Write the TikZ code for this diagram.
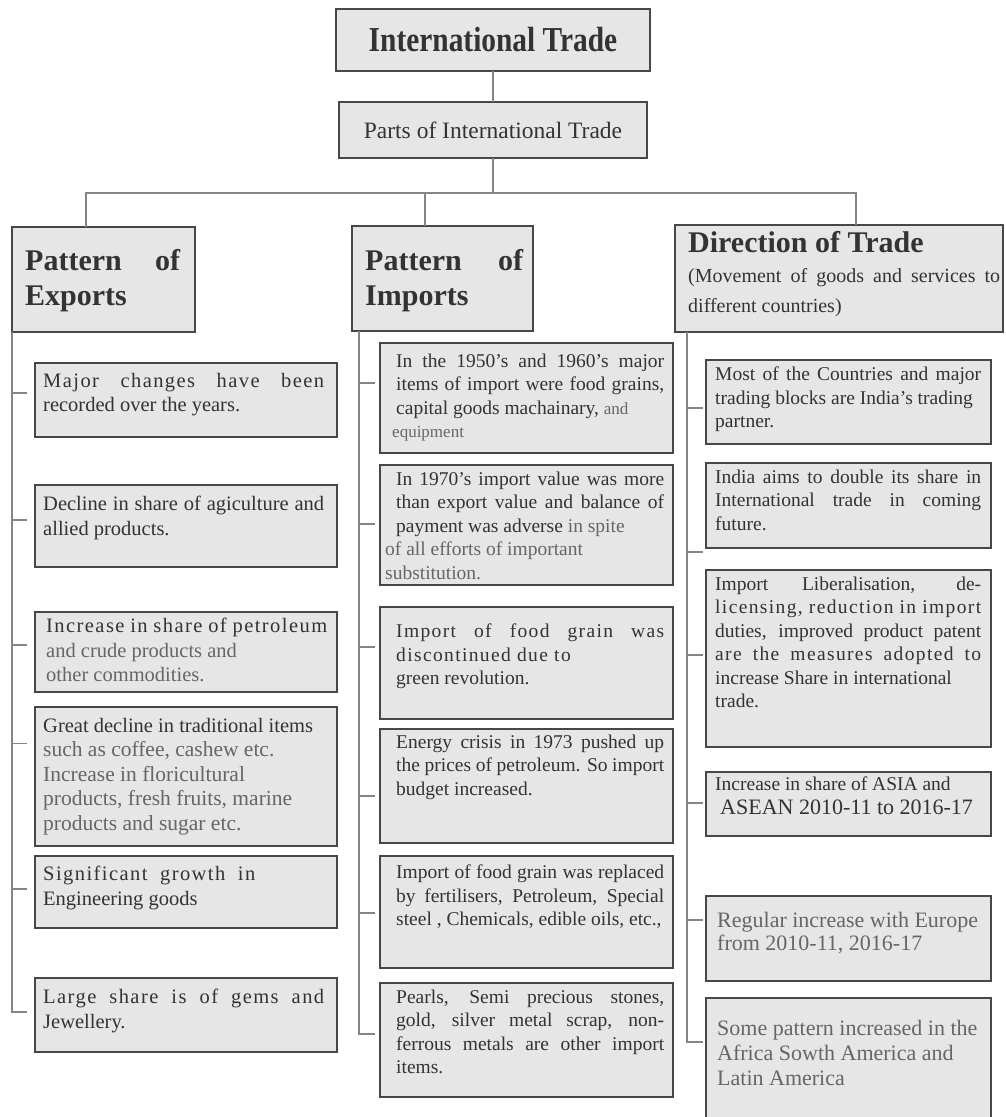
\documentclass[tikz,border=0pt]{standalone}
\usepackage{fontspec}
\setmainfont{Liberation Serif}
\newfontfamily\condfont{Liberation Serif}[FakeStretch=0.84]
\usepackage{xcolor}
\usepackage{tikz}
\usetikzlibrary{positioning}
\definecolor{boxfill}{HTML}{E6E6E6}
\definecolor{boxline}{HTML}{474747}
\definecolor{linkgray}{HTML}{858585}
\definecolor{txtdark}{HTML}{333333}
\definecolor{txtlight}{HTML}{666666}
\newcommand{\spread}[1]{{\addfontfeature{LetterSpace=7}#1}}
\tolerance=9999
\hbadness=10000
\hyphenpenalty=10000

\begin{document}
\begin{tikzpicture}[
    x=1pt, y=-1pt,
    topbox/.style={rectangle, draw=boxline, fill=boxfill, line width=2.6pt,
        minimum width=314pt, minimum height=62pt, outer sep=0pt, text=txtdark,
        font=\condfont\bfseries\fontsize{35}{40}\selectfont},
    partsbox/.style={rectangle, draw=boxline, fill=boxfill, line width=2.2pt,
        minimum width=308pt, minimum height=56pt, outer sep=0pt, text=txtdark,
        font=\fontsize{23.5}{28}\selectfont},
    hdr/.style={rectangle, draw=boxline, fill=boxfill, line width=2.2pt,
        anchor=north west, outer sep=0pt, inner sep=0pt},
    hdrtxt/.style={anchor=north west, inner sep=0pt, align=justify, text=txtdark,
        font=\bfseries\fontsize{30}{35}\selectfont},
    item/.style={rectangle, draw=boxline, fill=boxfill, line width=1.8pt,
        anchor=north west, outer sep=0pt, inner sep=0pt},
    eitem/.style={item, minimum width=302pt},
    iitem/.style={item, minimum width=293pt},
    ditem/.style={item, minimum width=285pt},
    txt/.style={anchor=north west, inner sep=0pt, align=justify, text=txtdark,
        font=\fontsize{19.5}{23.5}\selectfont},
    etxt/.style={txt, text width=281pt, font=\fontsize{20.5}{24.5}\selectfont},
    itxt/.style={txt, text width=268pt},
    dtxt/.style={txt, text width=266pt},
    conn/.style={draw=linkgray, line width=1.3pt}
]
    \useasboundingbox (0,0) rectangle (1005,1117);
    \fill[white] (0,0) rectangle (1005,1117);

    % title and parts
    \node[topbox] (top) at (493,40) {International Trade};
    \node[partsbox, below=31pt of top] (parts) {Parts of International Trade};

    % column headers
    \node[hdr, minimum width=183pt, minimum height=105pt] (ex) at (12,227) {};
    \node[hdrtxt, text width=155pt] (ext) at ([shift={(13pt,-22.5pt)}]ex.north west)
        {Pattern of Exports};
    \node[hdr, minimum width=181pt, minimum height=105pt] (im) at (352,226) {};
    \node[hdrtxt, text width=158pt] (imt) at ([shift={(13pt,-23.5pt)}]im.north west)
        {Pattern of Imports};
    \node[hdr, minimum width=328pt, minimum height=107pt] (dr) at (675,225) {};
    \node[hdrtxt, text width=312pt, font=\fontsize{20}{30}\selectfont] (drt)
        at ([shift={(13pt,-6.3pt)}]dr.north west)
        {{\bfseries\fontsize{30}{35}\selectfont Direction of Trade\par}
         (Movement of goods and services to\linebreak different countries)};

    % tree lines
    \coordinate (busL) at (86,193);
    \coordinate (busM) at (425,193);
    \coordinate (busR) at (856,193);
    \draw[conn] (top) -- (parts);
    \draw[conn] (parts.south) -- (parts.south |- busL);
    \draw[conn] (ex.north -| busL) -- (busL) -- (busR) -- (dr.north -| busR);
    \draw[conn] (busM) -- (im.north -| busM);

    % exports
    \node[eitem, minimum height=74pt] (e1) at (35,363) {};
    \node[etxt] (e1t) at ([shift={(8pt,-10pt)}]e1.north west)
        {\spread{Major changes have been}\linebreak recorded over the years.};
    \node[eitem, minimum height=82pt] (e2) at (35,485) {};
    \node[etxt] (e2t) at ([shift={(8pt,-11pt)}]e2.north west)
        {Decline in share of agiculture and\linebreak allied products.};
    \node[eitem, minimum height=80pt] (e3) at (35,612) {};
    \node[etxt] (e3t) at ([shift={(11pt,-6pt)}]e3.north west)
        {\spread{Increase in share of petroleum}\linebreak
         {\color{txtlight}and crude products and\\ other commodities.}};
    \node[eitem, minimum height=139pt] (e4) at (35,707) {};
    \node[etxt] (e4t) at ([shift={(8pt,-11pt)}]e4.north west)
        {Great decline in traditional items\\
         {\color{txtlight}\fontsize{21.5}{25}\selectfont such as coffee, cashew etc.\\
         Increase in floricultural\\ products, fresh fruits, marine\\ products and sugar etc.}};
    \node[eitem, minimum height=72pt] (e5) at (35,856) {};
    \node[etxt] (e5t) at ([shift={(8pt,-10pt)}]e5.north west)
        {\spread{Significant\hspace{6pt} growth\hspace{6pt} in}\\ Engineering goods};
    \node[eitem, minimum height=74pt] (e6) at (35,978) {};
    \node[etxt] (e6t) at ([shift={(8pt,-11pt)}]e6.north west)
        {\spread{Large share is of gems and}\linebreak Jewellery.};

    % imports
    \node[iitem, minimum height=110pt] (i1) at (380,343) {};
    \node[itxt] (i1t) at ([shift={(16pt,-10.7pt)}]i1.north west)
        {In the 1950's and 1960's major\linebreak items of import were food grains,\linebreak
         capital goods machainary, {\color{txtlight}\fontsize{17}{23.5}\selectfont and\\
         \hspace*{-4pt}equipment}};
    \node[iitem, minimum height=120pt] (i2) at (380,465) {};
    \node[itxt] (i2t) at ([shift={(16pt,-6.7pt)}]i2.north west)
        {In 1970's import value was more\linebreak than export value and balance of\linebreak
         payment was adverse {\color{txtlight}in spite\\
         \hspace*{-11pt}of all efforts of important\\ \hspace*{-11pt}substitution.}};
    \node[iitem, minimum height=112pt] (i3) at (380,607) {};
    \node[itxt] (i3t) at ([shift={(16pt,-16.7pt)}]i3.north west)
        {\spread{Import of food grain was}\linebreak \spread{discontinued due to}\\ green revolution.};
    \node[iitem, minimum height=114pt] (i4) at (380,729) {};
    \node[itxt] (i4t) at ([shift={(16pt,-5.7pt)}]i4.north west)
        {Energy crisis in 1973 pushed up\linebreak the prices of petroleum. So import\\
         budget increased.};
    \node[iitem, minimum height=112pt] (i5) at (380,856) {};
    \node[itxt] (i5t) at ([shift={(16pt,-8.7pt)}]i5.north west)
        {Import of food grain was replaced\linebreak by fertilisers, Petroleum, Special\linebreak
         steel , Chemicals, edible oils, etc.,};
    \node[iitem, minimum height=114pt] (i6) at (380,983) {};
    \node[itxt] (i6t) at ([shift={(16pt,-6.7pt)}]i6.north west)
        {Pearls, Semi precious stones,\linebreak gold, silver metal scrap, non-\linebreak
         ferrous metals are other import\linebreak items.};

    % direction
    \node[ditem, minimum height=84pt] (d1) at (706,360) {};
    \node[dtxt] (d1t) at ([shift={(9pt,-6.7pt)}]d1.north west)
        {Most of the Countries and major\linebreak trading blocks are India's trading\\ partner.};
    \node[ditem, minimum height=85pt] (d2) at (706,463) {};
    \node[dtxt] (d2t) at ([shift={(9pt,-6.7pt)}]d2.north west)
        {India aims to double its share in\linebreak International trade in coming\linebreak future.};
    \node[ditem, minimum height=177pt] (d3) at (706,570) {};
    \node[dtxt] (d3t) at ([shift={(9pt,-6.7pt)}]d3.north west)
        {Import Liberalisation, de-\linebreak \spread{licensing, reduction in import}\linebreak
         duties, improved product patent\linebreak \spread{are the measures adopted to}\linebreak
         increase Share in international\\ trade.};
    \node[ditem, minimum height=64pt] (d4) at (706,772) {};
    \node[dtxt] (d4t) at ([shift={(9pt,-4.7pt)}]d4.north west)
        {Increase in share of ASIA and\\
         \hspace*{5pt}{\fontsize{22}{32}\selectfont ASEAN 2010-11 to 2016-17}};
    \node[ditem, minimum height=85pt] (d5) at (706,896) {};
    \node[dtxt, text=txtlight, font=\fontsize{22}{23.5}\selectfont] (d5t)
        at ([shift={(11pt,-16pt)}]d5.north west)
        {Regular increase with Europe\\ from 2010-11, 2016-17};
    \node[ditem, minimum height=130pt] (d6) at (706,998) {};
    \node[dtxt, text=txtlight, font=\fontsize{22}{25}\selectfont] (d6t)
        at ([shift={(11pt,-22pt)}]d6.north west)
        {Some pattern increased in the\\ Africa Sowth America and\\ Latin America};

    % branch lines, exports
    \draw[conn] (ex.south west) |- ([shift={(-8pt,3pt)}]e6.west);
    \foreach \n/\dy in {e1/7pt, e2/6pt, e3/7pt, e4/33pt, e5/3pt}
        \draw[conn] ([shift={(-8pt,\dy)}]\n.west) -- ++(-15pt,0);
    % branch lines, imports
    \draw[conn] ([xshift=7pt]im.south west) |- ([shift={(-5pt,6pt)}]i6.west);
    \foreach \n/\dy in {i1/15pt, i2/1pt, i3/16pt, i4/-10pt, i5/-1pt}
        \draw[conn] ([shift={(-5pt,\dy)}]\n.west) -- ++(-16pt,0);
    % branch lines, direction
    \draw[conn] ([xshift=12pt]dr.south west) |- ([shift={(-3pt,21pt)}]d6.west);
    \foreach \n/\dy in {d1/-6pt, d2/-46.5pt, d3/3.5pt, d4/1pt, d5/18.5pt}
        \draw[conn] ([shift={(-3pt,\dy)}]\n.west) -- ++(-16pt,0);
\end{tikzpicture}
\end{document}
